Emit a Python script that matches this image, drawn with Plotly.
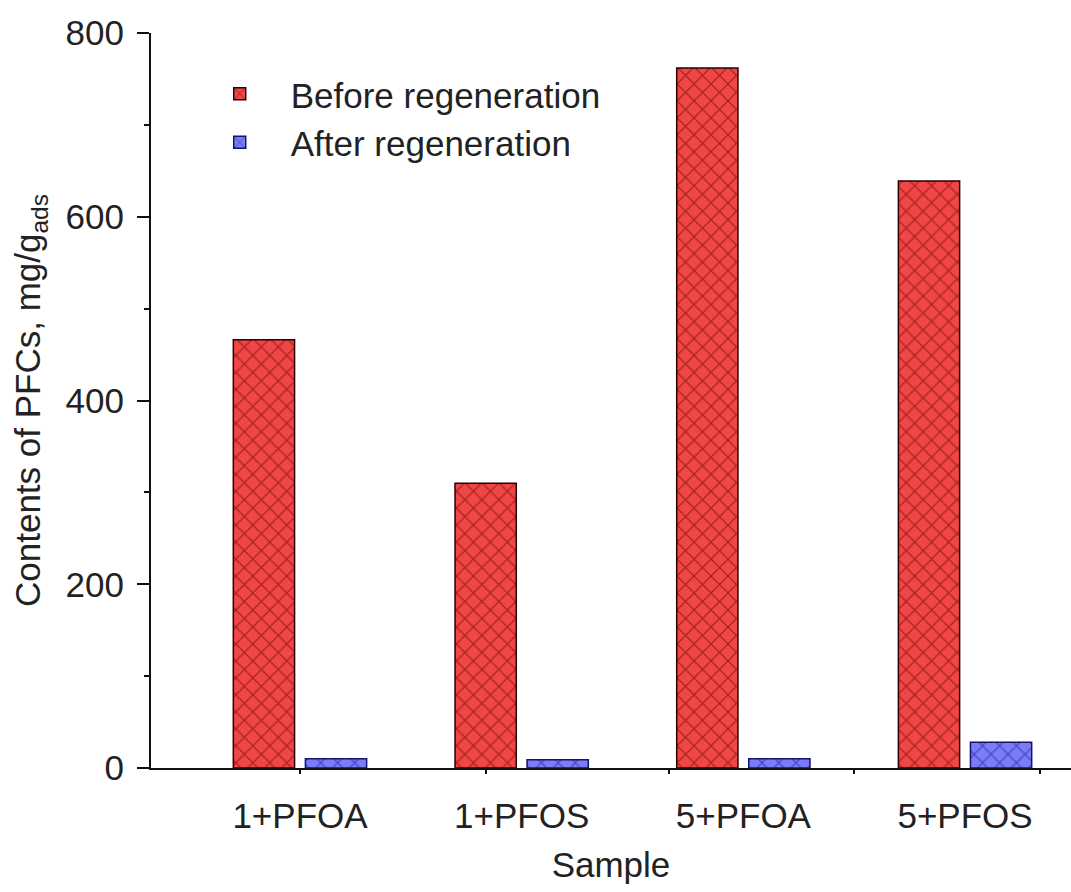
import plotly.graph_objects as go

samples = ["1+PFOA", "1+PFOS", "5+PFOA", "5+PFOS"]
before = [466, 310, 762, 639]
after = [10, 9, 10, 28]
y_ticks = [0, 200, 400, 600, 800]
x_tick_marks = [1.0, 1.838, 2.665, 3.50, 4.34]

FONT = "Liberation Sans, Arial, sans-serif"
FS = 35
pos = [1, 2, 3, 4]

fig = go.Figure()
fig.add_trace(go.Bar(
    x=pos, y=before, name="Before regeneration",
    marker=dict(color="#F04646", line=dict(color="#2a0000", width=1.5),
                pattern=dict(shape="x", fgcolor="#6a0000", size=12, solidity=0.2)),
))
fig.add_trace(go.Bar(
    x=pos, y=after, name="After regeneration",
    marker=dict(color="#7C7CF6", line=dict(color="#14146e", width=1.5),
                pattern=dict(shape="x", fgcolor="#14149a", size=12, solidity=0.2)),
))
# secondary x axis carrying the tick marks (no labels)
fig.add_trace(go.Scatter(x=[None], y=[None], xaxis="x2", showlegend=False, hoverinfo="skip"))

xr = [0.328, 4.478]
fig.update_layout(
    width=1071, height=892,
    margin=dict(l=151, r=0, t=33, b=124),
    paper_bgcolor="white", plot_bgcolor="white",
    barmode="group", bargap=0.35, bargroupgap=0.15,
    font=dict(family=FONT, size=FS, color="#222"),
    showlegend=True,
    legend=dict(x=0.041, y=0.957, xanchor="left", yanchor="top",
                bgcolor="rgba(0,0,0,0)", font=dict(size=FS, color="#222"),
                tracegroupgap=0, itemwidth=92),
    xaxis=dict(range=xr, tickvals=pos, ticktext=samples, ticks="",
               showline=True, linecolor="#111", linewidth=2, showgrid=False,
               zeroline=False, ticklabelstandoff=16,
               title=dict(text="Sample", font=dict(size=FS), standoff=18)),
    xaxis2=dict(overlaying="x", range=xr, tickvals=x_tick_marks, ticks="outside",
                ticklen=5, tickwidth=2, tickcolor="#111", showticklabels=False,
                showgrid=False, zeroline=False, side="bottom", anchor="y"),
    yaxis=dict(range=[0, 800], tickvals=y_ticks, ticks="outside", ticklen=12,
               tickwidth=2, tickcolor="#111", showline=True, linecolor="#111",
               linewidth=2, showgrid=False, zeroline=False, ticklabelstandoff=6,
               minor=dict(dtick=100, tick0=0, ticks="outside", ticklen=5,
                          tickwidth=2, tickcolor="#111"),
               title=dict(text="Contents of PFCs, mg/g<sub>ads</sub>",
                          font=dict(size=FS), standoff=14)),
)

fig.write_html("out.html")
